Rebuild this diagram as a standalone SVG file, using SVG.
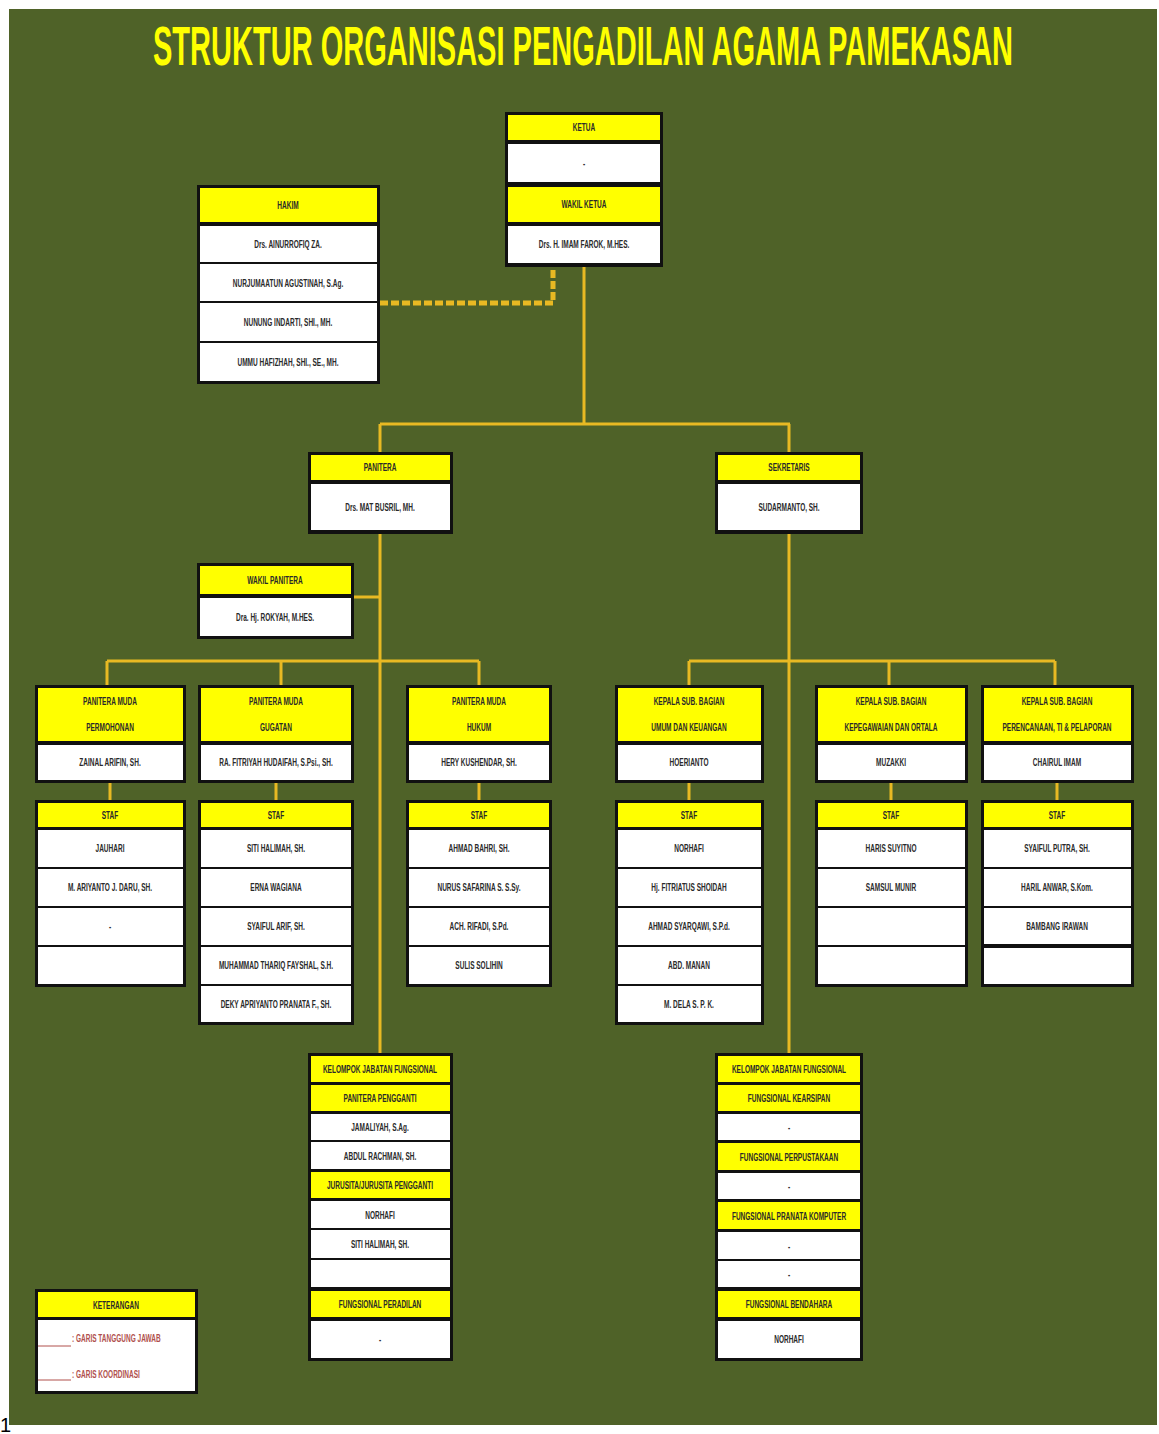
<svg xmlns="http://www.w3.org/2000/svg" width="1159" height="1434" viewBox="0 0 1159 1434">
<style>
.bx{fill:#111111}
.y{fill:#ffff00}
.w{fill:#ffffff}
.t{font-family:"Liberation Sans",Arial,sans-serif;font-size:10.5px;font-weight:bold;fill:#2a2a2a;text-anchor:middle}
.c{fill:none;stroke:#e8b923;stroke-width:3}
.d{fill:none;stroke:#e8b923;stroke-width:5;stroke-dasharray:8 3}
.lg{font-family:"Liberation Sans",Arial,sans-serif;font-size:10.5px;font-weight:bold;fill:#b0504d}
</style>
<rect x="0" y="0" width="1159" height="1434" fill="#ffffff"/>
<rect x="9" y="9" width="1148" height="1416" fill="#4f6228"/>
<text transform="translate(583 65) scale(.5 1)" x="0" y="0" font-family="'Liberation Sans',Arial,sans-serif" font-size="56" font-weight="bold" fill="#ffff00" text-anchor="middle" textLength="1720" lengthAdjust="spacingAndGlyphs">STRUKTUR ORGANISASI PENGADILAN AGAMA PAMEKASAN</text>

<g id="connectors">
<path class="d" d="M380 303 H553 V266"/>
<path class="c" d="M584 266 V424 M380 424 H790 M380 424 V452 M789 424 V452"/>
<path class="c" d="M380 534 V1053 M789 534 V1053 M354 597 H380"/>
<path class="c" d="M107 661 H479 M107 661 V685 M281 661 V685 M479 661 V685"/>
<path class="c" d="M689 661 H1055 M689 661 V685 M889 661 V685 M1055 661 V685"/>
<path class="c" d="M110 783 V800 M276 783 V800 M479 783 V800 M689 783 V800 M891 783 V800 M1057 783 V800"/>
</g>

<g id="ketua">
<rect class="bx" x="505" y="112" width="158" height="155"/>
<rect class="y" x="508" y="115" width="152" height="25"/><text class="t" transform="translate(584 131) scale(.62 1)">KETUA</text>
<rect class="w" x="508" y="144" width="152" height="38"/><text class="t" transform="translate(584 167) scale(.62 1)">-</text>
<rect class="y" x="508" y="187" width="152" height="35"/><text class="t" transform="translate(584 208) scale(.62 1)">WAKIL KETUA</text>
<rect class="w" x="508" y="226" width="152" height="37"/><text class="t" transform="translate(584 248) scale(.62 1)">Drs. H. IMAM FAROK, M.HES.</text>
</g>

<g id="hakim">
<rect class="bx" x="197" y="185" width="183" height="199"/>
<rect class="y" x="200" y="188" width="177" height="34"/><text class="t" transform="translate(288 209) scale(.62 1)">HAKIM</text>
<rect class="w" x="200" y="226" width="177" height="36"/><text class="t" transform="translate(288 248) scale(.62 1)">Drs. AINURROFIQ ZA.</text>
<rect class="w" x="200" y="264" width="177" height="37"/><text class="t" transform="translate(288 287) scale(.62 1)">NURJUMAATUN AGUSTINAH, S.Ag.</text>
<rect class="w" x="200" y="303" width="177" height="38"/><text class="t" transform="translate(288 326) scale(.62 1)">NUNUNG INDARTI, SHI., MH.</text>
<rect class="w" x="200" y="343" width="177" height="38"/><text class="t" transform="translate(288 366) scale(.62 1)">UMMU HAFIZHAH, SHI., SE., MH.</text>
</g>

<g id="panitera">
<rect class="bx" x="308" y="452" width="145" height="82"/>
<rect class="y" x="311" y="455" width="139" height="25"/><text class="t" transform="translate(380 471) scale(.62 1)">PANITERA</text>
<rect class="w" x="311" y="484" width="139" height="46"/><text class="t" transform="translate(380 511) scale(.62 1)">Drs. MAT BUSRIL, MH.</text>
</g>

<g id="sekretaris">
<rect class="bx" x="715" y="452" width="148" height="82"/>
<rect class="y" x="718" y="455" width="142" height="25"/><text class="t" transform="translate(789 471) scale(.62 1)">SEKRETARIS</text>
<rect class="w" x="718" y="484" width="142" height="46"/><text class="t" transform="translate(789 511) scale(.62 1)">SUDARMANTO, SH.</text>
</g>

<g id="wakil-panitera">
<rect class="bx" x="197" y="563" width="157" height="76"/>
<rect class="y" x="200" y="566" width="151" height="28"/><text class="t" transform="translate(275 584) scale(.62 1)">WAKIL PANITERA</text>
<rect class="w" x="200" y="598" width="151" height="38"/><text class="t" transform="translate(275 621) scale(.62 1)">Dra. Hj. ROKYAH, M.HES.</text>
</g>

<g id="pm-permohonan">
<rect class="bx" x="35" y="685" width="151" height="98"/>
<rect class="y" x="38" y="688" width="145" height="53"/><text class="t" transform="translate(110 705) scale(.62 1)">PANITERA MUDA</text><text class="t" transform="translate(110 731) scale(.62 1)">PERMOHONAN</text>
<rect class="w" x="38" y="745" width="145" height="35"/><text class="t" transform="translate(110 766) scale(.62 1)">ZAINAL ARIFIN, SH.</text>
</g>
<g id="pm-gugatan">
<rect class="bx" x="198" y="685" width="156" height="98"/>
<rect class="y" x="201" y="688" width="150" height="53"/><text class="t" transform="translate(276 705) scale(.62 1)">PANITERA MUDA</text><text class="t" transform="translate(276 731) scale(.62 1)">GUGATAN</text>
<rect class="w" x="201" y="745" width="150" height="35"/><text class="t" transform="translate(276 766) scale(.62 1)">RA. FITRIYAH HUDAIFAH, S.Psi., SH.</text>
</g>
<g id="pm-hukum">
<rect class="bx" x="406" y="685" width="146" height="98"/>
<rect class="y" x="409" y="688" width="140" height="53"/><text class="t" transform="translate(479 705) scale(.62 1)">PANITERA MUDA</text><text class="t" transform="translate(479 731) scale(.62 1)">HUKUM</text>
<rect class="w" x="409" y="745" width="140" height="35"/><text class="t" transform="translate(479 766) scale(.62 1)">HERY KUSHENDAR, SH.</text>
</g>

<g id="ksb-umum">
<rect class="bx" x="615" y="685" width="149" height="98"/>
<rect class="y" x="618" y="688" width="143" height="53"/><text class="t" transform="translate(689 705) scale(.62 1)">KEPALA SUB. BAGIAN</text><text class="t" transform="translate(689 731) scale(.62 1)">UMUM DAN KEUANGAN</text>
<rect class="w" x="618" y="745" width="143" height="35"/><text class="t" transform="translate(689 766) scale(.62 1)">HOERIANTO</text>
</g>
<g id="ksb-kepegawaian">
<rect class="bx" x="815" y="685" width="153" height="98"/>
<rect class="y" x="818" y="688" width="147" height="53"/><text class="t" transform="translate(891 705) scale(.62 1)">KEPALA SUB. BAGIAN</text><text class="t" transform="translate(891 731) scale(.62 1)">KEPEGAWAIAN DAN ORTALA</text>
<rect class="w" x="818" y="745" width="147" height="35"/><text class="t" transform="translate(891 766) scale(.62 1)">MUZAKKI</text>
</g>
<g id="ksb-perencanaan">
<rect class="bx" x="981" y="685" width="153" height="98"/>
<rect class="y" x="984" y="688" width="147" height="53"/><text class="t" transform="translate(1057 705) scale(.62 1)">KEPALA SUB. BAGIAN</text><text class="t" transform="translate(1057 731) scale(.62 1)">PERENCANAAN, TI &amp; PELAPORAN</text>
<rect class="w" x="984" y="745" width="147" height="35"/><text class="t" transform="translate(1057 766) scale(.62 1)">CHAIRUL IMAM</text>
</g>

<g id="staf-permohonan">
<rect class="bx" x="35" y="800" width="151" height="187"/>
<rect class="y" x="38" y="803" width="145" height="24"/><text class="t" transform="translate(110 819) scale(.62 1)">STAF</text>
<rect class="w" x="38" y="830" width="145" height="37"/><text class="t" transform="translate(110 852) scale(.62 1)">JAUHARI</text>
<rect class="w" x="38" y="869" width="145" height="37"/><text class="t" transform="translate(110 891) scale(.62 1)">M. ARIYANTO J. DARU, SH.</text>
<rect class="w" x="38" y="908" width="145" height="37"/><text class="t" transform="translate(110 930) scale(.62 1)">-</text>
<rect class="w" x="38" y="947" width="145" height="37"/>
</g>
<g id="staf-gugatan">
<rect class="bx" x="198" y="800" width="156" height="225"/>
<rect class="y" x="201" y="803" width="150" height="24"/><text class="t" transform="translate(276 819) scale(.62 1)">STAF</text>
<rect class="w" x="201" y="830" width="150" height="37"/><text class="t" transform="translate(276 852) scale(.62 1)">SITI HALIMAH, SH.</text>
<rect class="w" x="201" y="869" width="150" height="37"/><text class="t" transform="translate(276 891) scale(.62 1)">ERNA WAGIANA</text>
<rect class="w" x="201" y="908" width="150" height="37"/><text class="t" transform="translate(276 930) scale(.62 1)">SYAIFUL ARIF, SH.</text>
<rect class="w" x="201" y="947" width="150" height="37"/><text class="t" transform="translate(276 969) scale(.62 1)">MUHAMMAD THARIQ FAYSHAL, S.H.</text>
<rect class="w" x="201" y="986" width="150" height="36"/><text class="t" transform="translate(276 1008) scale(.62 1)">DEKY APRIYANTO PRANATA F., SH.</text>
</g>
<g id="staf-hukum">
<rect class="bx" x="406" y="800" width="146" height="187"/>
<rect class="y" x="409" y="803" width="140" height="24"/><text class="t" transform="translate(479 819) scale(.62 1)">STAF</text>
<rect class="w" x="409" y="830" width="140" height="37"/><text class="t" transform="translate(479 852) scale(.62 1)">AHMAD BAHRI, SH.</text>
<rect class="w" x="409" y="869" width="140" height="37"/><text class="t" transform="translate(479 891) scale(.62 1)">NURUS SAFARINA S. S.Sy.</text>
<rect class="w" x="409" y="908" width="140" height="37"/><text class="t" transform="translate(479 930) scale(.62 1)">ACH. RIFADI, S.Pd.</text>
<rect class="w" x="409" y="947" width="140" height="37"/><text class="t" transform="translate(479 969) scale(.62 1)">SULIS SOLIHIN</text>
</g>

<g id="staf-umum">
<rect class="bx" x="615" y="800" width="149" height="225"/>
<rect class="y" x="618" y="803" width="143" height="24"/><text class="t" transform="translate(689 819) scale(.62 1)">STAF</text>
<rect class="w" x="618" y="830" width="143" height="37"/><text class="t" transform="translate(689 852) scale(.62 1)">NORHAFI</text>
<rect class="w" x="618" y="869" width="143" height="37"/><text class="t" transform="translate(689 891) scale(.62 1)">Hj. FITRIATUS SHOIDAH</text>
<rect class="w" x="618" y="908" width="143" height="37"/><text class="t" transform="translate(689 930) scale(.62 1)">AHMAD SYARQAWI, S.P.d.</text>
<rect class="w" x="618" y="947" width="143" height="37"/><text class="t" transform="translate(689 969) scale(.62 1)">ABD. MANAN</text>
<rect class="w" x="618" y="986" width="143" height="36"/><text class="t" transform="translate(689 1008) scale(.62 1)">M. DELA S. P. K.</text>
</g>
<g id="staf-kepegawaian">
<rect class="bx" x="815" y="800" width="153" height="187"/>
<rect class="y" x="818" y="803" width="147" height="24"/><text class="t" transform="translate(891 819) scale(.62 1)">STAF</text>
<rect class="w" x="818" y="830" width="147" height="37"/><text class="t" transform="translate(891 852) scale(.62 1)">HARIS SUYITNO</text>
<rect class="w" x="818" y="869" width="147" height="37"/><text class="t" transform="translate(891 891) scale(.62 1)">SAMSUL MUNIR</text>
<rect class="w" x="818" y="908" width="147" height="37"/>
<rect class="w" x="818" y="947" width="147" height="37"/>
</g>
<g id="staf-perencanaan">
<rect class="bx" x="981" y="800" width="153" height="187"/>
<rect class="y" x="984" y="803" width="147" height="24"/><text class="t" transform="translate(1057 819) scale(.62 1)">STAF</text>
<rect class="w" x="984" y="830" width="147" height="37"/><text class="t" transform="translate(1057 852) scale(.62 1)">SYAIFUL PUTRA, SH.</text>
<rect class="w" x="984" y="869" width="147" height="37"/><text class="t" transform="translate(1057 891) scale(.62 1)">HARIL ANWAR, S.Kom.</text>
<rect class="w" x="984" y="908" width="147" height="36"/><text class="t" transform="translate(1057 930) scale(.62 1)">BAMBANG IRAWAN</text>
<rect class="w" x="984" y="948" width="147" height="36"/>
</g>

<g id="jabfung-kepaniteraan">
<rect class="bx" x="308" y="1053" width="145" height="308"/>
<rect class="y" x="311" y="1056" width="139" height="26"/><text class="t" transform="translate(380 1073) scale(.62 1)">KELOMPOK JABATAN FUNGSIONAL</text>
<rect class="y" x="311" y="1085" width="139" height="26"/><text class="t" transform="translate(380 1102) scale(.62 1)">PANITERA PENGGANTI</text>
<rect class="w" x="311" y="1114" width="139" height="26"/><text class="t" transform="translate(380 1131) scale(.62 1)">JAMALIYAH, S.Ag.</text>
<rect class="w" x="311" y="1142" width="139" height="27"/><text class="t" transform="translate(380 1160) scale(.62 1)">ABDUL RACHMAN, SH.</text>
<rect class="y" x="311" y="1172" width="139" height="26"/><text class="t" transform="translate(380 1189) scale(.62 1)">JURUSITA/JURUSITA PENGGANTI</text>
<rect class="w" x="311" y="1201" width="139" height="27"/><text class="t" transform="translate(380 1219) scale(.62 1)">NORHAFI</text>
<rect class="w" x="311" y="1230" width="139" height="28"/><text class="t" transform="translate(380 1248) scale(.62 1)">SITI HALIMAH, SH.</text>
<rect class="w" x="311" y="1260" width="139" height="27"/>
<rect class="y" x="311" y="1291" width="139" height="26"/><text class="t" transform="translate(380 1308) scale(.62 1)">FUNGSIONAL PERADILAN</text>
<rect class="w" x="311" y="1321" width="139" height="37"/><text class="t" transform="translate(380 1343) scale(.62 1)">-</text>
</g>

<g id="jabfung-kesekretariatan">
<rect class="bx" x="715" y="1053" width="148" height="308"/>
<rect class="y" x="718" y="1056" width="142" height="26"/><text class="t" transform="translate(789 1073) scale(.62 1)">KELOMPOK JABATAN FUNGSIONAL</text>
<rect class="y" x="718" y="1085" width="142" height="26"/><text class="t" transform="translate(789 1102) scale(.62 1)">FUNGSIONAL KEARSIPAN</text>
<rect class="w" x="718" y="1114" width="142" height="26"/><text class="t" transform="translate(789 1131) scale(.62 1)">-</text>
<rect class="y" x="718" y="1143" width="142" height="27"/><text class="t" transform="translate(789 1161) scale(.62 1)">FUNGSIONAL PERPUSTAKAAN</text>
<rect class="w" x="718" y="1173" width="142" height="26"/><text class="t" transform="translate(789 1190) scale(.62 1)">-</text>
<rect class="y" x="718" y="1202" width="142" height="27"/><text class="t" transform="translate(789 1220) scale(.62 1)">FUNGSIONAL PRANATA KOMPUTER</text>
<rect class="w" x="718" y="1232" width="142" height="27"/><text class="t" transform="translate(789 1250) scale(.62 1)">-</text>
<rect class="w" x="718" y="1261" width="142" height="26"/><text class="t" transform="translate(789 1278) scale(.62 1)">-</text>
<rect class="y" x="718" y="1291" width="142" height="26"/><text class="t" transform="translate(789 1308) scale(.62 1)">FUNGSIONAL BENDAHARA</text>
<rect class="w" x="718" y="1321" width="142" height="37"/><text class="t" transform="translate(789 1343) scale(.62 1)">NORHAFI</text>
</g>

<g id="keterangan">
<rect class="bx" x="35" y="1289" width="163" height="105"/>
<rect class="y" x="38" y="1292" width="157" height="25"/><text class="t" transform="translate(116 1309) scale(.62 1)">KETERANGAN</text>
<rect class="w" x="38" y="1320" width="157" height="71"/>
<line x1="38" y1="1346" x2="71" y2="1346" stroke="#b0504d" stroke-width="1"/>
<text class="lg" transform="translate(72 1342) scale(.62 1)">: GARIS TANGGUNG JAWAB</text>
<line x1="38" y1="1380" x2="71" y2="1380" stroke="#b0504d" stroke-width="1"/>
<text class="lg" transform="translate(72 1378) scale(.62 1)">: GARIS KOORDINASI</text>
</g>

<text x="0" y="1432" font-family="'Liberation Sans',Arial,sans-serif" font-size="20" fill="#000000">1</text>
</svg>
